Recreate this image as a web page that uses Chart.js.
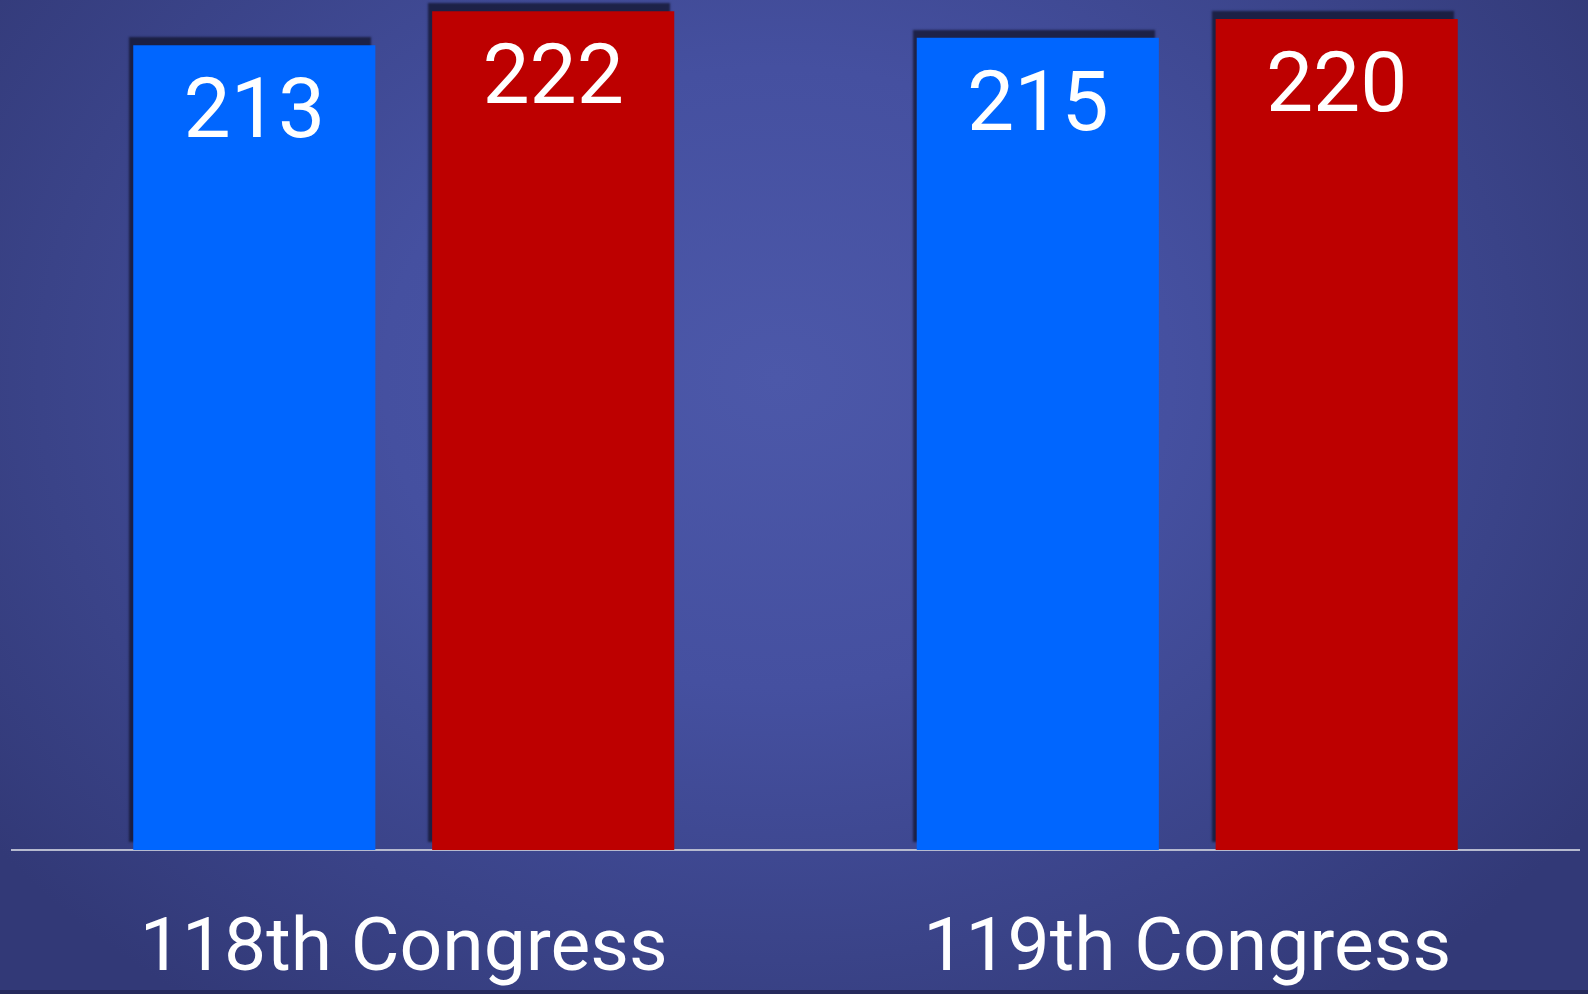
<!DOCTYPE html>
<html>
<head>
<meta charset="utf-8">
<script src="https://cdn.jsdelivr.net/npm/chart.js@4.4.1/dist/chart.umd.min.js"></script>
<style>
  html, body { margin: 0; padding: 0; }
  body {
    width: 1588px; height: 994px; overflow: hidden; position: relative;
    background: radial-gradient(ellipse 62% 78% at 49% 38%, #4c58a9 0%, #4550a0 40%, #3a4388 75%, #323977 100%);
  }
  #wrap { position: absolute; left: 0; top: 0; width: 1588px; height: 994px; }
  #strip { position: absolute; left: 0; bottom: 0; width: 1588px; height: 4px; background: #262a5c; }
</style>
</head>
<body>
<div id="wrap"><canvas id="houseChart" width="1588" height="994"></canvas></div>
<div id="strip"></div>
<script>
// DATA
const congresses = ['118th Congress', '119th Congress'];
const democrats = [213, 215];
const republicans = [222, 220];

// draw the seat counts inside the bar tops
const barLabels = {
    id: 'barLabels',
    afterDatasetsDraw(chart) {
        const ctx = chart.ctx;
        ctx.save();
        ctx.fillStyle = '#ffffff';
        ctx.font = '84px Roboto';
        ctx.textAlign = 'center';
        ctx.textBaseline = 'middle';
        chart.data.datasets.forEach((ds, i) => {
            chart.getDatasetMeta(i).data.forEach((bar, j) => {
                ctx.fillText(ds.data[j], bar.x, bar.y + 71);
            });
        });
        ctx.restore();
    }
};

// dark shadow up and to the left of each bar
const barShadow = {
    id: 'barShadow',
    beforeDatasetDraw(chart) {
        const ctx = chart.ctx;
        ctx.save();
        ctx.shadowColor = 'rgba(18, 20, 45, 0.75)';
        ctx.shadowBlur = 2;
        ctx.shadowOffsetX = -4;
        ctx.shadowOffsetY = -8;
    },
    afterDatasetDraw(chart) {
        chart.ctx.restore();
    }
};

new Chart(document.getElementById('houseChart').getContext('2d'), {
    type: 'bar',
    data: {
        labels: congresses,
        datasets: [
            { label: 'Democrats', data: democrats, backgroundColor: '#0066ff' },
            { label: 'Republicans', data: republicans, backgroundColor: '#bd0000' }
        ]
    },
    options: {
        responsive: false,
        animation: false,
        categoryPercentage: 0.763,
        barPercentage: 0.81,
        layout: { padding: { left: 12, right: 9, top: 0, bottom: 0 } },
        plugins: {
            legend: { display: false },
            tooltip: { enabled: false }
        },
        scales: {
            x: {
                grid: { display: false },
                border: { display: true, color: '#b6bacf', width: 2 },
                ticks: {
                    color: '#ffffff',
                    font: { family: 'Roboto', size: 75 },
                    padding: 48
                },
                afterFit(scale) { scale.height = 144; }
            },
            y: {
                display: false,
                min: 0,
                max: 225
            }
        }
    },
    plugins: [barShadow, barLabels]
});
</script>
</body>
</html>
